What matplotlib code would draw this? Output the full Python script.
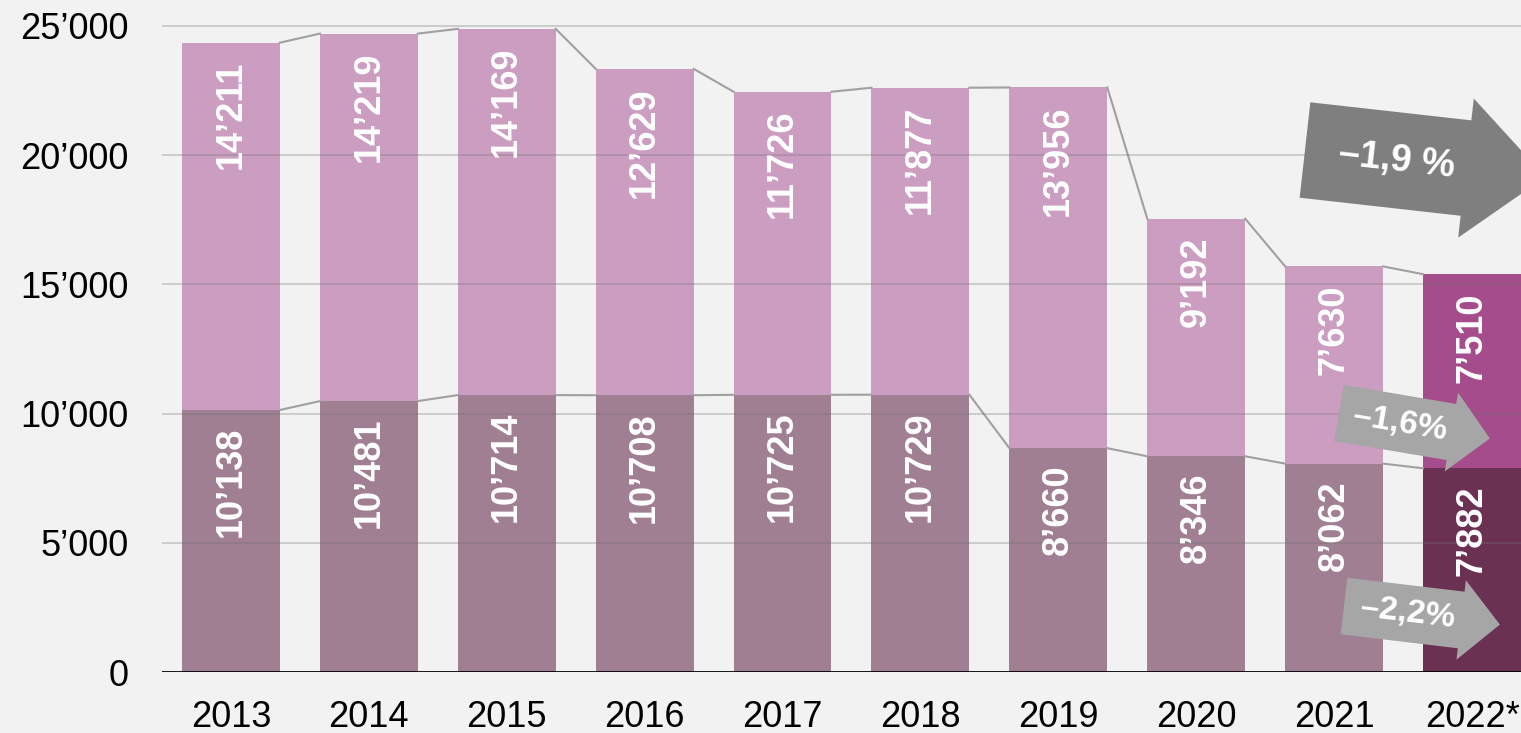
import matplotlib
matplotlib.use("Agg")
import matplotlib.pyplot as plt
import numpy as np
from matplotlib.patches import Polygon

plt.rcParams['font.family'] = ['Liberation Sans', 'DejaVu Sans']

years = ["2013", "2014", "2015", "2016", "2017", "2018", "2019", "2020", "2021", "2022*"]
bottom_vals = [10138, 10481, 10714, 10708, 10725, 10729, 8660, 8346, 8062, 7882]
top_vals = [14211, 14219, 14169, 12629, 11726, 11877, 13956, 9192, 7630, 7510]
yticks = [0, 5000, 10000, 15000, 20000, 25000]
ytick_labels = ["0", "5’000", "10’000", "15’000", "20’000", "25’000"]
arrow_labels = ["–1,9 %", "–1,6%", "–2,2%"]

def fmt(v):
    s = f"{v:,}".replace(",", "’")
    return s

W, H = 1521, 733
fig = plt.figure(figsize=(W / 100, H / 100), dpi=100)
fig.patch.set_facecolor("#f2f2f2")
ax = fig.add_axes([162 / W, 1 - 672 / H, 1 - 162 / W, 672 / H])
ax.set_facecolor("#f2f2f2")

x = np.arange(len(years))
bw = 0.71
bcol = ["#a07f93"] * 9 + ["#6b3152"]
tcol = ["#cb9dc0"] * 9 + ["#a54c8c"]
ax.bar(x, bottom_vals, bw, color=bcol, zorder=2)
ax.bar(x, top_vals, bw, bottom=bottom_vals, color=tcol, zorder=2)

tot = np.array(bottom_vals) + np.array(top_vals)
for i in range(len(x) - 1):
    for arr in (tot, bottom_vals):
        ax.plot([x[i] + bw / 2, x[i + 1] - bw / 2], [arr[i], arr[i + 1]],
                color="#a0a0a0", lw=1.5, zorder=2)

for yt in yticks[1:]:
    ax.axhline(yt, color=(0.45, 0.45, 0.45), alpha=0.35, lw=1.2, zorder=3)
ax.axhline(0, color="black", lw=2, zorder=4)

for i in range(len(x)):
    ax.annotate(fmt(bottom_vals[i]), (x[i], bottom_vals[i]), xytext=(0, -12),
                textcoords="offset points", rotation=90, ha="center", va="top",
                color="white", fontsize=26, fontweight="bold", zorder=5)
    ax.annotate(fmt(top_vals[i]), (x[i], tot[i]), xytext=(0, -13),
                textcoords="offset points", rotation=90, ha="center", va="top",
                color="white", fontsize=26, fontweight="bold", zorder=5)

ax.set_xlim(-0.5, 9 + 49 / 138)
ax.set_ylim(0, 26000)
ax.set_yticks(yticks)
ax.set_yticklabels(ytick_labels)
ax.set_xticks(x)
ax.set_xticklabels(years)
ax.tick_params(axis="y", length=0, pad=24, labelsize=26)
ax.tick_params(axis="x", length=0, pad=20, labelsize=26)
for s in ax.spines.values():
    s.set_visible(False)

# overlay for arrows (pixel coordinates)
ov = fig.add_axes([0, 0, 1, 1], facecolor="none")
ov.set_xlim(0, W)
ov.set_ylim(H, 0)
ov.axis("off")

def arrow(cx, cy, ang_deg, length, bwid, hwid, hlen, color, label, fs, tpos):
    a = np.deg2rad(ang_deg)
    u = np.array([np.cos(a), np.sin(a)])
    n = np.array([-np.sin(a), np.cos(a)])
    c = np.array([cx, cy])
    pts = [c + n * bwid / 2, c + u * (length - hlen) + n * bwid / 2,
           c + u * (length - hlen) + n * hwid / 2, c + u * length,
           c + u * (length - hlen) - n * hwid / 2,
           c + u * (length - hlen) - n * bwid / 2, c - n * bwid / 2]
    ov.add_patch(Polygon(pts, closed=True, color=color, lw=0, zorder=6))
    tc = c + u * tpos
    ov.text(tc[0], tc[1], label, rotation=-ang_deg, ha="center", va="center",
            color="white", fontsize=fs, fontweight="bold", zorder=7,
            rotation_mode="anchor")

arrow(1305, 150, 6.4, 242, 96, 140, 80, "#7f7f7f", arrow_labels[0], 27, 92)
arrow(1339, 413, 9.6, 153, 57, 80, 39, "#a6a6a6", arrow_labels[1], 24, 62)
arrow(1344, 606, 6.8, 157, 57, 80, 39, "#a6a6a6", arrow_labels[2], 24, 64)

fig.savefig("out.png", dpi=100, facecolor=fig.get_facecolor())
